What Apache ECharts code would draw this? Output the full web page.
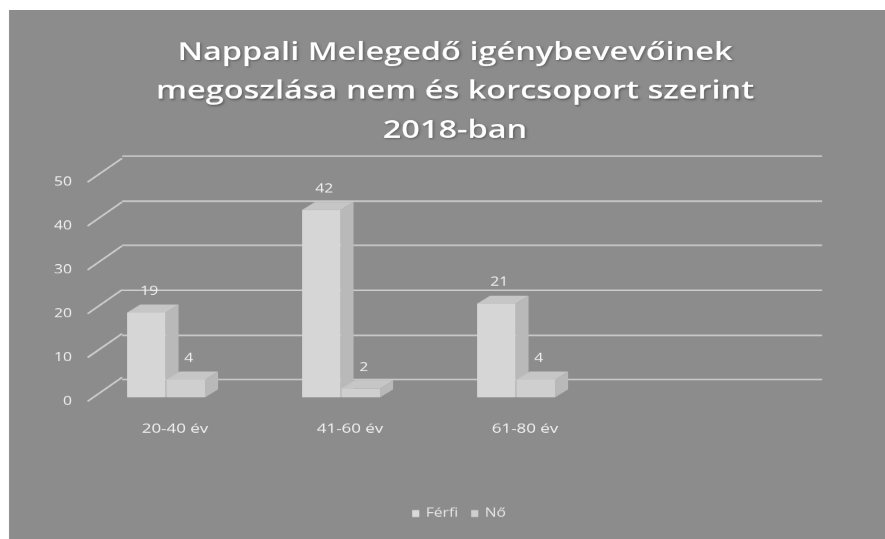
<!DOCTYPE html>
<html><head><meta charset="utf-8">
<script src="https://cdn.jsdelivr.net/npm/echarts@6/dist/echarts.min.js"></script>
<style>
html,body{margin:0;padding:0;background:#fff;overflow:hidden}
#wrap{width:885px;height:539px;overflow:hidden;position:relative}
#c{width:681px;height:539px;transform:scaleX(1.2996);transform-origin:0 0;position:absolute;left:0;top:0}
</style>
</head><body><div id="wrap"><div id="c"></div></div>
<script>
const titleText = 'Nappali Melegedő igénybevevőinek\nmegoszlása nem és korcsoport szerint\n2018-ban';
const categories = ['20-40 év', '41-60 év', '61-80 év', ''];
const ferfi = [19, 42, 21, null];
const no = [4, 2, 4, null];
const seriesNames = ['Férfi', 'Nő'];
const yTicks = [0, 10, 20, 30, 40, 50];

// the scanned reference is stretched horizontally; the chart is drawn narrow and stretched by CSS (x / 1.3)
const BG = '#8c8c8c';
const GRID = '#cdcdcd';
const TXT = '#f2f2f2';
const DX = 10, DY = -8;

function barRenderer(idx) {
  return function (params, api) {
    const v = api.value(1);
    if (v == null || isNaN(v)) return;
    const c = api.coord([api.value(0), v]);
    const b = api.coord([api.value(0), 0]);
    const w = 29.6;
    const x0 = c[0] - 36.9 + idx * 30.4;
    const y1 = c[1], y0 = b[1];
    const front = idx === 0 ? '#d6d6d6' : '#cfcfcf';
    return {
      type: 'group',
      children: [
        { type: 'polygon', shape: { points: [[x0 + w, y1], [x0 + w + DX, y1 + DY], [x0 + w + DX, y0 + DY], [x0 + w, y0]] }, style: { fill: '#b9b9b9' } },
        { type: 'polygon', shape: { points: [[x0, y1], [x0 + w, y1], [x0 + w + DX, y1 + DY], [x0 + DX, y1 + DY]] }, style: { fill: '#c6c6c6' } },
        { type: 'rect', shape: { x: x0, y: y1, width: w, height: y0 - y1 }, style: { fill: front } },
        { type: 'text', x: x0 + w / 2 + 2.3, y: y1 - 21, style: { text: String(v), fill: TXT, font: '12px "Open Sans", sans-serif', align: 'center', verticalAlign: 'middle' } }
      ]
    };
  };
}

const chart = echarts.init(document.getElementById('c'), null, { renderer: 'canvas', devicePixelRatio: 1.3 });
chart.setOption({
  backgroundColor: '#ffffff',
  animation: false,
  graphic: [{ type: 'rect', z: -10, shape: { x: 6.9, y: 10, width: 700, height: 539 }, style: { fill: BG } }],
  title: {
    text: titleText,
    left: 345, top: 28, textAlign: 'center',
    textStyle: { color: '#ffffff', fontFamily: 'Open Sans', fontWeight: 600, fontSize: 25, lineHeight: 39,
      textShadowColor: 'rgba(0,0,0,0.35)', textShadowBlur: 2, textShadowOffsetX: 1, textShadowOffsetY: 1 }
  },
  legend: {
    data: seriesNames, top: 502, left: 312, itemWidth: 5.5, itemHeight: 7, itemGap: 10,
    icon: 'rect',
    textStyle: { color: '#e6e6e6', fontSize: 12, fontFamily: 'Open Sans' }
  },
  grid: [
    { left: 67.3, top: 182, width: 538.5, height: 219 },
    { left: 67.3, top: 174, width: 538.5, height: 223 },
    { left: 93.9, top: 156, width: 538.5, height: 223 }
  ],
  xAxis: [
    { type: 'category', gridIndex: 0, data: categories, axisLine: { show: false }, axisTick: { show: false },
      axisLabel: { color: TXT, fontSize: 13, fontFamily: 'Open Sans', margin: 21 } },
    { type: 'category', gridIndex: 1, data: categories, show: false },
    { type: 'category', gridIndex: 2, data: categories, show: false }
  ],
  yAxis: [
    { type: 'value', gridIndex: 0, min: 0, max: 50, interval: 10, splitLine: { show: false },
      axisLine: { show: false }, axisTick: { show: false },
      axisLabel: { color: TXT, fontSize: 12, fontFamily: 'Open Sans', margin: 12 } },
    { type: 'value', gridIndex: 1, min: 0, max: 50, interval: 10, show: false },
    { type: 'value', gridIndex: 2, min: 0, max: 50, interval: 10, axisLabel: { show: false },
      axisLine: { show: false }, axisTick: { show: false },
      splitLine: { show: true, lineStyle: { color: GRID, width: 1.6 } } }
  ],
  series: [
    { type: 'custom', name: 'diag', xAxisIndex: 0, yAxisIndex: 0, silent: true, z: 1,
      data: yTicks.map(v => [0, v]),
      renderItem: function (params, api) {
        const p = api.coord([0, api.value(1)]);
        const left = p[0] - api.size([1, 0])[0] / 2;
        return { type: 'line', shape: { x1: left, y1: p[1], x2: left + 26.6, y2: p[1] - 24 }, style: { stroke: GRID, lineWidth: 1.6 } };
      } },
    { type: 'custom', name: seriesNames[0], xAxisIndex: 1, yAxisIndex: 1, z: 3, itemStyle: { color: '#dadada' },
      data: ferfi.map((v, i) => [i, v]), renderItem: barRenderer(0) },
    { type: 'custom', name: seriesNames[1], xAxisIndex: 1, yAxisIndex: 1, z: 4, itemStyle: { color: '#cfcfcf' },
      data: no.map((v, i) => [i, v]), renderItem: barRenderer(1) }
  ]
});
</script></body></html>
